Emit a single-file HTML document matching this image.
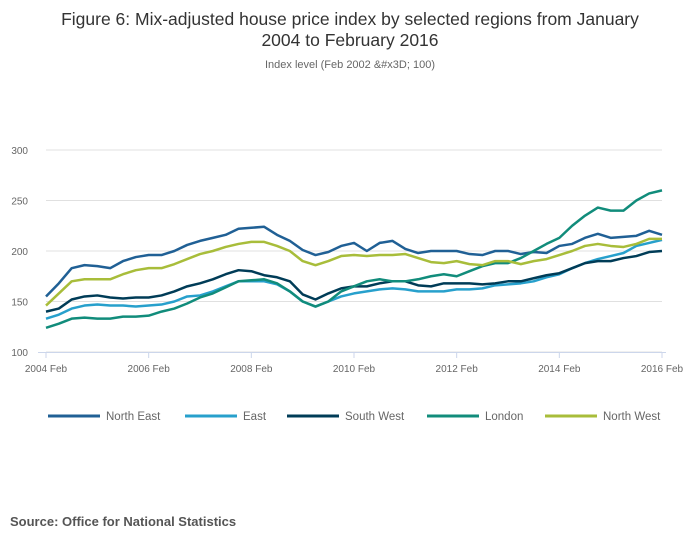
<!DOCTYPE html>
<html><head><meta charset="utf-8"><style>
body{margin:0;background:#fff;font-family:"Liberation Sans",sans-serif;}
svg{display:block}
</style></head><body>
<svg id="chart" width="700" height="549">
<text x="350" y="25" text-anchor="middle" font-size="17.5" fill="#333">Figure 6: Mix-adjusted house price index by selected regions from January</text>
<text x="350" y="46" text-anchor="middle" font-size="17.5" fill="#333">2004 to February 2016</text>
<text x="350" y="68" text-anchor="middle" font-size="11" fill="#666">Index level (Feb 2002 &amp;#x3D; 100)</text>
<g id="grid"></g><g id="xaxis"></g><g id="series"></g><g id="legend"></g>
<text x="10" y="526" font-size="13" font-weight="bold" fill="#555">Source: Office for National Statistics</text>
</svg>
<script>
const xTickLabels=["2004 Feb","2006 Feb","2008 Feb","2010 Feb","2012 Feb","2014 Feb","2016 Feb"];
const yTicks=[100,150,200,250,300];
const seriesNames=["North East","East","South West","London","North West"];
const seriesColors=["#206095","#27a0cc","#003c57","#118c7b","#a8bd3a"];
const northEast=[155,168,183,186,185,183,190,194,196,196,200,206,210,213,216,222,223,224,216,210,201,196,199,205,208,200,208,210,202,198,200,200,200,197,196,200,200,197,199,198,205,207,213,217,213,214,215,220,216];
const east=[133,137,143,146,147,146,146,145,146,147,150,155,156,160,165,170,170,170,167,160,150,145,150,155,158,160,162,163,162,160,160,160,162,162,163,166,167,168,170,174,177,183,188,192,195,198,205,208,211];
const southWest=[140,143,152,155,156,154,153,154,154,156,160,165,168,172,177,181,180,176,174,170,157,152,158,163,165,165,168,170,170,166,165,168,168,168,167,168,170,170,173,176,178,183,188,190,190,193,195,199,200];
const london=[124,128,133,134,133,133,135,135,136,140,143,148,154,158,164,170,171,172,168,160,150,145,150,160,165,170,172,170,170,172,175,177,175,180,185,188,188,193,200,207,213,225,235,243,240,240,250,257,260];
const northWest=[146,158,170,172,172,172,177,181,183,183,187,192,197,200,204,207,209,209,205,200,190,186,190,195,196,195,196,196,197,193,189,188,190,187,186,190,190,187,190,192,196,200,205,207,205,204,207,212,212];
const allSeries=[northEast,east,southWest,london,northWest];
const NS="http://www.w3.org/2000/svg";
const x0=46,x1=662,y0=352,y1=150;
const xq=i=>x0+(x1-x0)*i/48;
const yv=v=>y0-(v-100)/200*(y0-y1);
function mk(t,a,p){const e=document.createElementNS(NS,t);for(const k in a)e.setAttribute(k,a[k]);p.appendChild(e);return e;}
const grid=document.getElementById('grid');
yTicks.forEach(v=>{
 const l=mk('line',{x1:x0,x2:x1,y1:yv(v),y2:yv(v),stroke:'#e0e0e0','stroke-width':1},grid);
 
 
 const t=mk('text',{x:28,y:yv(v)+4,'text-anchor':'end','font-size':10,fill:'#666'},grid);t.textContent=v;
 
 
});
const xa=document.getElementById('xaxis');
const ax=mk('line',{x1:x0-8,x2:x1+4,y1:y0+0.5,y2:y0+0.5,stroke:'#ccd6eb'},xa);


xTickLabels.forEach((s,i)=>{
 const x=x0+(x1-x0)*i/(xTickLabels.length-1);
 mk('line',{x1:x,x2:x,y1:y0,y2:y0+6,stroke:'#ccd6eb'},xa);
 const t=mk('text',{x:x,y:y0+20,'text-anchor':'middle','font-size':10,fill:'#666'},xa);t.textContent=s;
 
 
});
const sg=document.getElementById('series');
allSeries.forEach((d,k)=>{
 const p=mk('polyline',{points:d.map((v,i)=>xq(i)+','+yv(v)).join(' '),fill:'none',stroke:seriesColors[k],'stroke-width':2.5,'stroke-linejoin':'round'},sg);
 
 
});
const lg=document.getElementById('legend');
const lx=[48,185,287,427,545];
seriesNames.forEach((n,k)=>{
 const g=mk('g',{},lg);
 
 
 mk('line',{x1:lx[k],x2:lx[k]+52,y1:416,y2:416,stroke:seriesColors[k],'stroke-width':3},g);
 const t=mk('text',{x:lx[k]+58,y:420,'font-size':11.5,fill:'#666'},g);t.textContent=n;
});
</script>
</body></html>
